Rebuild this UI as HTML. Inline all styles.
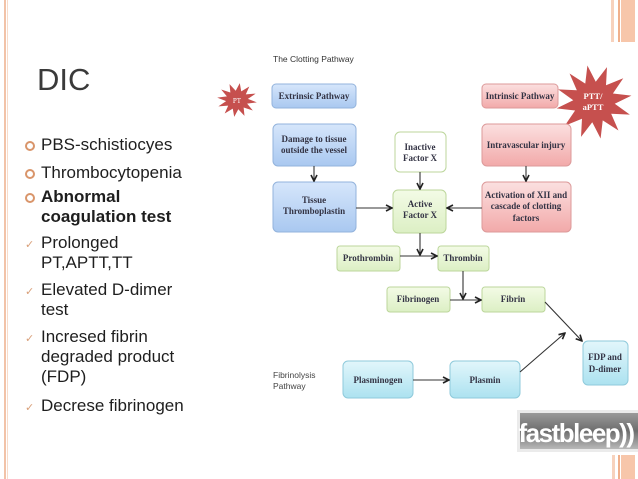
<!DOCTYPE html>
<html><head><meta charset="utf-8"><style>
html,body{margin:0;padding:0;background:#fff;}
body{width:638px;height:479px;position:relative;overflow:hidden;font-family:"Liberation Sans",sans-serif;}
.t{position:absolute;color:#1e1e1e;font-size:17px;line-height:20px;}
.b{position:absolute;left:25px;width:6px;height:6px;border:2px solid #d9956a;border-radius:50%;}
.c{position:absolute;left:25px;color:#d9a07a;font-size:11px;}
</style></head><body>
<div style="position:absolute;left:4px;top:0;width:2px;height:479px;background:#f2c3a8"></div>
<div style="position:absolute;left:7px;top:0;width:1px;height:479px;background:#f7dccb"></div>
<div style="position:absolute;left:611px;top:0;width:3px;height:42px;background:#f7d2bd"></div>
<div style="position:absolute;left:618px;top:0;width:2px;height:42px;background:#f0b08c"></div>
<div style="position:absolute;left:621px;top:0;width:14px;height:42px;background:#f7c6aa"></div>
<div style="position:absolute;left:612px;top:455px;width:3px;height:24px;background:#f7d2bd"></div>
<div style="position:absolute;left:618px;top:455px;width:2px;height:24px;background:#f0b08c"></div>
<div style="position:absolute;left:621px;top:455px;width:14px;height:24px;background:#f7c6aa"></div>

<div style="position:absolute;left:37px;top:62px;font-size:31px;color:#3a3a3a">DIC</div>
<div class="b" style="top:141px"></div><div class="t" style="left:41px;top:135px">PBS-schistiocyes</div>
<div class="b" style="top:169px"></div><div class="t" style="left:41px;top:163px">Thrombocytopenia</div>
<div class="b" style="top:193px"></div><div class="t" style="left:41px;top:187px;font-weight:bold">Abnormal<br>coagulation test</div>
<div class="c" style="top:238px">✓</div><div class="t" style="left:41px;top:233px">Prolonged<br>PT,APTT,TT</div>
<div class="c" style="top:285px">✓</div><div class="t" style="left:41px;top:280px">Elevated D-dimer<br>test</div>
<div class="c" style="top:332px">✓</div><div class="t" style="left:41px;top:327px">Incresed fibrin<br>degraded product<br>(FDP)</div>
<div class="c" style="top:401px">✓</div><div class="t" style="left:41px;top:396px">Decrese fibrinogen</div>

<svg width="638" height="479" style="position:absolute;left:0;top:0" font-family="Liberation Serif,serif">
<defs>
<linearGradient id="bl" x1="0" y1="0" x2="0" y2="1"><stop offset="0" stop-color="#d6e6fb"/><stop offset="1" stop-color="#a9c8f0"/></linearGradient>
<linearGradient id="rd" x1="0" y1="0" x2="0" y2="1"><stop offset="0" stop-color="#fbe0e0"/><stop offset="1" stop-color="#f2a9a9"/></linearGradient>
<linearGradient id="gr" x1="0" y1="0" x2="0" y2="1"><stop offset="0" stop-color="#f3fbe6"/><stop offset="1" stop-color="#dcefc4"/></linearGradient>
<linearGradient id="cy" x1="0" y1="0" x2="0" y2="1"><stop offset="0" stop-color="#e2f6fb"/><stop offset="1" stop-color="#ace2f0"/></linearGradient>
<linearGradient id="fb" x1="0" y1="0" x2="0" y2="1"><stop offset="0" stop-color="#9a9a9a"/><stop offset="0.5" stop-color="#6d6d6d"/><stop offset="1" stop-color="#b8b8b8"/></linearGradient>
<marker id="a" markerWidth="8" markerHeight="8" refX="7" refY="4" orient="auto" markerUnits="userSpaceOnUse"><path d="M1,1 L7,4 L1,7" fill="none" stroke="#222" stroke-width="1.6"/></marker>
</defs>
<text x="273" y="62" font-family="Liberation Sans,sans-serif" font-size="8.5" fill="#333">The Clotting Pathway</text>
<text x="273" y="378" font-family="Liberation Sans,sans-serif" font-size="8.5" fill="#444">Fibrinolysis</text>
<text x="273" y="389" font-family="Liberation Sans,sans-serif" font-size="8.5" fill="#444">Pathway</text>

<g fill="#c6504e">
<polygon transform="translate(237,100) scale(20,17) rotate(8)" points="1,0 .53,.14 .87,.5 .39,.39 .5,.87 .14,.53 0,1 -.14,.53 -.5,.87 -.39,.39 -.87,.5 -.53,.14 -1,0 -.53,-.14 -.87,-.5 -.39,-.39 -.5,-.87 -.14,-.53 0,-1 .14,-.53 .5,-.87 .39,-.39 .87,-.5 .53,-.14"/>
<polygon transform="translate(594,102) scale(38,37) rotate(-10)" points="1,0 .53,.14 .87,.5 .39,.39 .5,.87 .14,.53 0,1 -.14,.53 -.5,.87 -.39,.39 -.87,.5 -.53,.14 -1,0 -.53,-.14 -.87,-.5 -.39,-.39 -.5,-.87 -.14,-.53 0,-1 .14,-.53 .5,-.87 .39,-.39 .87,-.5 .53,-.14"/>
</g>
<text x="237" y="103" font-size="7" fill="#fff" text-anchor="middle">PT</text>
<text x="593" y="99" font-size="8.5" font-weight="bold" fill="#fff" text-anchor="middle">PTT/</text>
<text x="593" y="110" font-size="8.5" font-weight="bold" fill="#fff" text-anchor="middle">aPTT</text>

<g stroke-width="1">
<rect x="272" y="84" width="84" height="24" rx="4" fill="url(#bl)" stroke="#93b3dc"/>
<rect x="482" y="84" width="76" height="24" rx="4" fill="url(#rd)" stroke="#dc9a9a"/>
<rect x="273" y="124" width="83" height="42" rx="5" fill="url(#bl)" stroke="#93b3dc"/>
<rect x="395" y="132" width="51" height="40" rx="5" fill="#fff" stroke="#bcd69b"/>
<rect x="482" y="124" width="89" height="42" rx="5" fill="url(#rd)" stroke="#dc9a9a"/>
<rect x="273" y="182" width="83" height="50" rx="5" fill="url(#bl)" stroke="#93b3dc"/>
<rect x="393" y="190" width="53" height="43" rx="5" fill="url(#gr)" stroke="#bcd69b"/>
<rect x="482" y="182" width="89" height="50" rx="5" fill="url(#rd)" stroke="#dc9a9a"/>
<rect x="337" y="246" width="63" height="25" rx="3" fill="url(#gr)" stroke="#bcd69b"/>
<rect x="438" y="246" width="51" height="25" rx="3" fill="url(#gr)" stroke="#bcd69b"/>
<rect x="387" y="287" width="63" height="25" rx="3" fill="url(#gr)" stroke="#bcd69b"/>
<rect x="482" y="287" width="63" height="25" rx="3" fill="url(#gr)" stroke="#bcd69b"/>
<rect x="583" y="341" width="45" height="44" rx="5" fill="url(#cy)" stroke="#8fcadb"/>
<rect x="343" y="361" width="70" height="37" rx="5" fill="url(#cy)" stroke="#8fcadb"/>
<rect x="450" y="361" width="70" height="37" rx="5" fill="url(#cy)" stroke="#8fcadb"/>
</g>

<g font-size="9" font-weight="bold" fill="#333344" text-anchor="middle">
<text x="314" y="99">Extrinsic Pathway</text>
<text x="520" y="99">Intrinsic Pathway</text>
<text x="314" y="142">Damage to tissue</text><text x="314" y="153">outside the vessel</text>
<text x="420" y="150">Inactive</text><text x="420" y="161">Factor X</text>
<text x="526" y="148">Intravascular injury</text>
<text x="314" y="203">Tissue</text><text x="314" y="214">Thromboplastin</text>
<text x="420" y="207">Active</text><text x="420" y="218">Factor X</text>
<text x="526" y="198">Activation of XII and</text><text x="526" y="209">cascade of clotting</text><text x="526" y="221">factors</text>
<text x="368" y="261">Prothrombin</text>
<text x="463" y="261">Thrombin</text>
<text x="418" y="302">Fibrinogen</text>
<text x="513" y="302">Fibrin</text>
<text x="605" y="360">FDP and</text><text x="605" y="372">D-dimer</text>
<text x="378" y="383">Plasminogen</text>
<text x="485" y="383">Plasmin</text>
</g>

<g stroke="#333" stroke-width="1.1" fill="none">
<line x1="314" y1="166" x2="314" y2="181" marker-end="url(#a)"/>
<line x1="420" y1="172" x2="420" y2="189" marker-end="url(#a)"/>
<line x1="526" y1="166" x2="526" y2="181" marker-end="url(#a)"/>
<line x1="356" y1="208" x2="392" y2="208" marker-end="url(#a)"/>
<line x1="482" y1="208" x2="447" y2="208" marker-end="url(#a)"/>
<line x1="400" y1="256" x2="437" y2="256" marker-end="url(#a)"/>
<line x1="420" y1="233" x2="420" y2="255" marker-end="url(#a)"/>
<line x1="450" y1="300" x2="481" y2="300" marker-end="url(#a)"/>
<line x1="463" y1="271" x2="463" y2="299" marker-end="url(#a)"/>
<line x1="413" y1="380" x2="449" y2="380" marker-end="url(#a)"/>
<line x1="545" y1="302" x2="582" y2="341" marker-end="url(#a)"/>
<line x1="520" y1="372" x2="565" y2="333" marker-end="url(#a)"/>
</g>

<rect x="517" y="410" width="121" height="42" fill="#ddd" opacity="0.6"/>
<rect x="520" y="413" width="118" height="36" fill="url(#fb)"/>
<text x="576" y="442" font-family="Liberation Sans,sans-serif" font-weight="bold" font-size="26" fill="#fff" text-anchor="middle" letter-spacing="-1.5">fastbleep))</text>
</svg>
</body></html>
